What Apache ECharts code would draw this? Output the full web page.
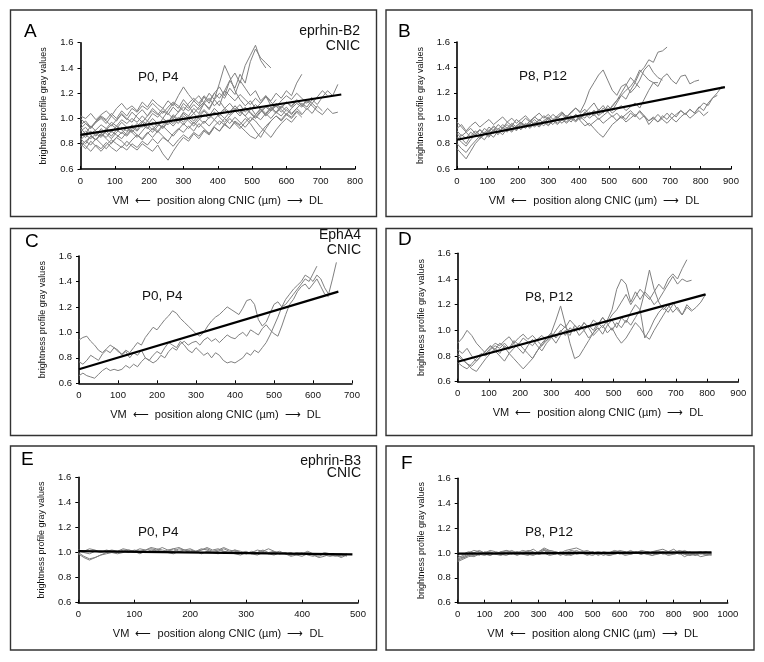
<!DOCTYPE html>
<html><head><meta charset="utf-8">
<script src="https://cdn.jsdelivr.net/npm/echarts@6/dist/echarts.min.js"></script>
<style>html,body{margin:0;padding:0;background:#fff}#c{width:764px;height:662px}</style>
</head><body><div id="c"></div>
<script>
// ---------- DATA ----------
const yTicks = [0.6, 0.8, 1.0, 1.2, 1.4, 1.6];
const xMaxA = 800, xMaxB = 900, xMaxC = 700, xMaxD = 900, xMaxE = 500, xMaxF = 1000;
const stepA = 15, stepB = 15, stepC = 10, stepD = 15, stepE = 10, stepF = 20;

const linesA = [
 [0.90,0.93,0.88,0.91,0.95,0.92,0.97,0.94,0.99,0.96,1.00,0.97,1.02,0.98,1.04,1.01,1.06,1.03,1.09,1.05,1.12,1.08,1.14,1.10,1.17,1.12,1.20,1.25,1.18,1.30,1.36,1.28,1.42,1.50,1.58,1.46,1.40],
 [0.84,0.80,0.86,0.83,0.88,0.85,0.90,0.87,0.84,0.89,0.93,0.90,0.95,0.92,0.97,0.94,1.00,0.97,1.03,0.99,1.05,1.02,1.08,1.04,1.12,1.07,1.15,1.10,1.22,1.30,1.24,1.35,1.28,1.45,1.55,1.48,1.44,1.40],
 [0.95,0.98,0.93,0.97,1.00,0.96,1.02,0.98,1.04,1.00,0.97,1.03,1.07,1.02,1.08,1.04,1.00,1.06,1.12,1.08,1.15,1.10,1.04,1.09,1.13,1.20,1.15,1.28,1.42,1.33,1.22,1.15,1.10,1.14,1.08,1.12,1.18,1.14,1.20,1.16,1.22,1.18,1.28,1.35],
 [0.80,0.76,0.82,0.78,0.74,0.79,0.83,0.80,0.77,0.82,0.78,0.75,0.80,0.77,0.74,0.79,0.72,0.67,0.74,0.80,0.85,0.82,0.88,0.84,0.90,0.87,0.93,0.90,0.96,0.92,0.98,0.95,1.00,0.96,0.90,0.85,0.92,0.98,1.02,0.99,1.04,1.01,1.06,1.03,1.08,1.04,1.10,1.06],
 [1.02,1.00,1.04,0.99,1.03,1.06,1.02,1.08,1.12,1.07,1.10,1.06,1.13,1.09,1.15,1.11,1.08,1.14,1.10,1.18,1.25,1.19,1.14,1.18,1.12,1.16,1.10,1.14,1.08,1.12,1.07,1.11,1.05,1.09,1.03,1.07,1.02,1.06,1.10,1.05,1.09,1.04,1.08,1.12,1.09,1.15,1.11,1.17,1.22,1.18,1.27],
 [0.88,0.85,0.90,0.86,0.92,0.88,0.84,0.89,0.93,0.90,0.95,0.91,0.97,0.93,0.89,0.94,0.98,0.95,1.00,0.96,1.02,0.98,0.94,0.99,1.03,1.00,1.05,1.01,0.97,1.02,1.06,1.02,1.08,1.04,1.00,1.05,1.09,1.06,1.11,1.07,1.03,1.08,1.12,1.09,1.14,1.10,1.06,1.03,1.08,1.04,1.05],
 [0.78,0.82,0.79,0.84,0.80,0.76,0.81,0.85,0.82,0.78,0.83,0.87,0.84,0.89,0.85,0.90,0.86,0.82,0.88,0.92,0.89,0.94,0.90,0.96,0.92,0.88,0.94,0.98,0.95,1.00,0.96,0.92,0.97,1.01,0.98,0.93,0.89,0.85,0.91,0.96,1.00,0.97,1.02],
 [0.92,0.96,0.93,0.98,1.02,0.99,1.04,1.00,1.06,1.02,1.08,1.05,1.10,1.07,1.12,1.08,1.04,1.09,1.13,1.10,1.06,1.12,1.16,1.12,1.18,1.14,1.20,1.16,1.22,1.18,1.14,1.19,1.15,1.11,1.16,1.12,1.17,1.13,1.09,1.14,1.18,1.15,1.20,1.16,1.12,1.17],
 [0.86,0.90,0.87,0.83,0.88,0.92,0.89,0.94,0.91,0.87,0.92,0.96,0.93,0.98,0.94,0.90,0.95,0.99,0.96,1.01,0.97,1.02,0.98,1.03,1.07,1.03,0.99,1.04,1.08,1.05,1.10,1.06,1.02,1.07,1.11,1.07,1.03,1.08,1.04,1.09,1.13,1.10,1.15,1.11,1.07,1.12,1.08],
 [0.82,0.78,0.74,0.79,0.76,0.81,0.77,0.74,0.78,0.75,0.80,0.77,0.82,0.79,0.84,0.80,0.85,0.82,0.78,0.83,0.87,0.84,0.89,0.86,0.91,0.88,0.93,0.90,0.95,0.92,0.97,0.94,0.90,0.86,0.84,0.89,0.94,0.98,1.02,0.98,1.03,1.00,1.05,1.01],
 [0.92,0.88,0.94,0.90,0.86,0.91,0.95,0.92,0.97,0.93,0.89,0.94,0.98,0.95,1.00,0.96,0.92,0.97,1.02,0.98,1.04,1.00,0.96,1.01,1.06,1.02,1.08,1.04,1.00,1.05,1.10,1.06,1.02,0.98,1.03,1.08,1.04,1.09,1.05,1.10,1.06],
 [0.83,0.87,0.84,0.88,0.85,0.90,0.86,0.91,0.88,0.93,0.89,0.85,0.90,0.95,0.91,0.96,0.93,0.98,0.94,0.99,0.95,1.00,1.04,1.00,0.96,1.01,1.05,1.02,1.07,1.03,1.08,1.04,1.09,1.05,1.01,1.06,1.10,1.07,1.12,1.08,1.13,1.09,1.14,1.10,1.15,1.12,1.17,1.22,1.18],
 [1.00,0.96,0.92,0.97,1.01,0.98,0.94,0.99,1.03,0.99,1.05,1.01,0.97,1.02,1.06,1.03,1.08,1.04,1.00,1.05,1.09,1.06,1.11,1.07,1.12,1.08,1.15,1.20,1.16,1.24,1.19,1.30,1.24,1.18,1.22,1.14,1.18,1.10,1.15],
 [0.78,0.82,0.86,0.83,0.88,0.84,0.80,0.85,0.89,0.86,0.91,0.87,0.83,0.88,0.92,0.89,0.94,0.90,0.86,0.91,0.96,0.92,0.97,0.93,0.98,0.94,0.99,0.95,1.00,0.96,1.01,0.97,0.93,0.98,1.02,0.99,1.04,1.00,1.05,1.02,1.07,1.03,1.08,1.04]
];
const linesB = [
 [0.88,0.84,0.80,0.86,0.90,0.87,0.92,0.89,0.94,0.91,0.95,0.92,0.96,0.93,0.97,0.94,0.98,0.95,0.99,0.96,1.00,0.97,1.01,0.98,1.02,0.99,1.03,1.00,1.05,1.02,1.06,1.03,1.08,1.05,1.10,1.14,1.20,1.26,1.32,1.28,1.36,1.40,1.46,1.44,1.52,1.53,1.56],
 [0.92,0.95,0.90,0.94,0.97,0.93,0.96,0.99,0.95,0.98,1.01,0.97,1.00,0.96,0.99,1.02,0.98,1.01,1.04,1.00,1.03,0.99,1.02,1.05,1.01,1.04,1.08,1.05,1.12,1.22,1.28,1.34,1.38,1.30,1.22,1.18,1.25,1.27,1.20,1.24,1.30,1.38,1.42,1.36,1.32,1.30],
 [0.76,0.72,0.68,0.74,0.80,0.84,0.88,0.85,0.90,0.87,0.92,0.89,0.94,0.90,0.95,0.92,0.96,0.93,0.97,0.94,0.98,0.95,0.99,0.96,1.00,0.97,1.02,0.99,1.04,1.08,1.12,1.06,1.10,1.05,1.09,1.14,1.18,1.22,1.25,1.30,1.38,1.34,1.30,1.28,1.28],
 [0.83,0.87,0.84,0.89,0.86,0.91,0.88,0.93,0.90,0.95,0.92,0.97,0.94,0.99,0.96,1.00,0.97,1.01,0.98,1.02,0.99,1.03,1.00,1.04,1.01,1.05,1.08,1.04,1.07,1.03,1.06,1.02,1.05,1.08,1.04,1.07,1.10,1.06,1.09,1.12,1.08,1.15,1.22,1.28,1.25,1.32,1.35,1.30,1.27,1.33,1.34,1.27,1.29,1.30],
 [0.97,0.93,0.89,0.92,0.88,0.91,0.87,0.90,0.93,0.89,0.92,0.95,0.91,0.94,0.97,0.93,0.96,0.99,0.95,0.98,1.01,0.97,1.00,1.03,0.99,1.02,0.98,1.01,1.04,1.00,1.03,0.99,1.02,1.05,1.01,1.04,1.00,1.03,1.06,1.02,1.05,1.01,0.98,1.00,0.97,1.02,0.99,1.04,1.01,1.06,1.03,1.07,1.04,1.08,1.12,1.10,1.16,1.20,1.25],
 [0.85,0.81,0.78,0.83,0.87,0.84,0.89,0.86,0.91,0.88,0.93,0.90,0.95,0.91,0.96,0.93,0.98,0.94,0.99,0.96,1.00,0.97,1.01,0.98,1.02,0.99,1.03,0.98,0.94,0.96,0.92,0.88,0.85,0.90,0.95,0.98,1.02,0.99,1.04,1.01,1.06,1.02,0.98,1.01,0.97,1.00,1.04,1.00,1.03,1.06,1.03,1.07,1.04,1.09,1.06,1.12,1.16,1.18],
 [0.80,0.76,0.73,0.78,0.82,0.86,0.83,0.88,0.85,0.90,0.87,0.92,0.89,0.94,0.91,0.96,0.93,0.97,0.94,0.98,0.95,0.99,0.96,1.00,0.97,1.01,0.98,1.03,1.00,1.05,1.02,1.07,1.04,1.10,1.06,1.12,1.18,1.15,1.22,1.28,1.24],
 [0.90,0.86,0.89,0.85,0.88,0.84,0.87,0.91,0.88,0.92,0.89,0.93,0.90,0.94,0.91,0.95,0.92,0.96,0.93,0.97,0.94,0.98,0.95,0.99,0.96,1.00,0.97,1.01,0.98,0.94,0.97,1.00,0.96,0.99,1.02,0.98,1.01,0.97,1.00,1.03,0.99,1.02,0.95,0.99,1.03,0.99,0.96,1.00,0.97,1.01,1.04,1.00,1.03,1.06,1.02,1.05]
];
const linesC = [
 [0.94,0.96,0.97,0.93,0.90,0.86,0.84,0.87,0.90,0.88,0.85,0.83,0.86,0.84,0.88,0.92,0.90,0.96,1.00,1.04,1.02,1.06,1.10,1.13,1.17,1.15,1.11,1.08,1.05,1.02,0.99,0.97,1.00,1.05,1.09,1.12,1.14,1.17,1.20,1.18,1.16,1.14,1.19,1.25,1.26,1.22,1.10,1.05,1.08,1.15,1.22,1.24,1.20,1.22,1.26,1.30,1.34,1.38,1.42,1.40,1.46,1.52],
 [0.77,0.75,0.78,0.82,0.80,0.78,0.83,0.86,0.84,0.88,0.86,0.82,0.85,0.80,0.84,0.82,0.86,0.80,0.78,0.82,0.85,0.83,0.88,0.92,0.90,0.88,0.93,0.90,0.86,0.84,0.88,0.85,0.82,0.84,0.80,0.84,0.82,0.78,0.76,0.77,0.76,0.78,0.80,0.84,0.82,0.86,0.84,0.88,0.92,0.98,1.05,1.12,1.20,1.26,1.30,1.34,1.37,1.40,1.45,1.43,1.40,1.45,1.42,1.35,1.30,1.42,1.55],
 [0.66,0.68,0.66,0.65,0.64,0.67,0.70,0.72,0.70,0.71,0.70,0.71,0.74,0.72,0.75,0.73,0.77,0.80,0.78,0.76,0.78,0.82,0.80,0.85,0.88,0.86,0.91,0.93,0.90,0.92,0.93,0.90,0.94,0.96,0.93,0.95,0.92,0.95,0.98,0.96,0.95,0.98,1.00,0.97,1.02,1.00,0.98,1.03,1.06,1.02,0.99,0.97,1.05,1.14,1.22,1.26,1.32,1.36,1.38,1.34,1.38,1.42,1.36,1.30,1.28]
];
const linesD = [
 [0.82,0.78,0.74,0.72,0.76,0.80,0.84,0.88,0.85,0.90,0.87,0.82,0.78,0.74,0.70,0.74,0.78,0.84,0.88,0.92,0.95,0.90,0.96,1.00,0.96,1.04,1.00,1.06,1.02,1.08,1.05,1.10,1.06,1.12,1.16,1.22,1.28,1.20,1.26,1.32,1.28,1.24,1.30,1.36,1.32,1.40,1.44,1.40,1.48,1.55],
 [0.90,0.94,1.00,0.96,0.90,0.86,0.82,0.86,0.90,0.88,0.92,0.95,0.90,0.94,0.97,0.93,0.96,0.92,0.88,0.94,0.98,0.94,0.99,1.03,0.98,1.02,0.96,1.00,1.04,1.00,1.06,1.02,1.08,1.16,1.32,1.40,1.36,1.22,1.30,1.24,1.30,1.26,1.20,1.24,1.30,1.36,1.42,1.36,1.40,1.38,1.39],
 [0.75,0.72,0.70,0.74,0.78,0.82,0.80,0.85,0.88,0.86,0.90,0.86,0.92,0.89,0.94,0.91,0.88,0.93,0.96,0.92,0.97,0.95,1.00,0.96,1.02,0.99,1.04,1.00,0.94,0.98,1.02,0.97,1.04,1.08,1.02,1.10,1.06,1.14,1.20,1.16,1.30,1.47,1.32,1.22,1.16,1.20,1.14,1.18,1.12,1.18,1.15,1.18,1.22,1.28],
 [0.80,0.77,0.74,0.70,0.68,0.73,0.78,0.82,0.86,0.82,0.88,0.85,0.90,0.86,0.82,0.88,0.93,0.88,0.84,0.90,0.94,1.00,1.05,1.02,1.08,1.04,1.00,1.06,1.02,0.96,1.00,1.04,0.98,1.02,0.95,0.90,0.94,1.00,1.06,1.02,0.96,0.93,1.00,1.06,1.12,1.18,1.22,1.16,1.12,1.20,1.16],
 [0.85,0.82,0.86,0.80,0.76,0.80,0.84,0.88,0.84,0.80,0.76,0.82,0.86,0.90,0.86,0.82,0.78,0.84,0.90,0.94,0.98,1.08,1.19,1.05,0.90,0.78,0.80,0.86,0.92,0.98,1.04,1.10,1.05,1.00,1.06,1.02,1.08,1.04,1.10,1.16,0.94,1.00,1.08,1.14,1.18,1.14,1.20]
];
const linesE = [
 [1.00,0.97,0.95,0.96,0.98,1.00,1.01,1.00,1.02,1.01,1.00,1.01,1.02,1.03,1.02,1.04,1.02,1.01,1.03,1.02,1.01,1.00,1.02,1.03,1.01,1.02,1.04,1.02,1.01,1.00,0.99,1.00,1.02,1.01,1.03,1.01,0.99,1.00,0.98,0.99,1.00,0.98,0.97,0.99,0.98,0.97,0.98,0.96,0.98],
 [1.02,1.01,1.03,1.02,1.00,1.01,1.02,1.01,1.03,1.02,1.01,1.03,1.02,1.04,1.03,1.02,1.01,1.03,1.04,1.02,1.03,1.01,1.02,1.04,1.02,1.03,1.01,1.00,1.02,1.01,0.99,1.01,1.00,1.02,1.00,1.01,0.99,1.00,0.98,1.00,0.99,1.01,0.99,0.98,1.00,0.99,0.98,0.99,0.97],
 [0.99,0.96,0.94,0.96,0.98,0.99,1.00,0.99,1.00,1.02,1.01,0.99,1.01,1.00,1.02,1.01,1.00,0.99,1.01,1.02,1.00,1.01,0.99,1.01,1.00,0.99,1.01,1.00,0.99,0.98,1.00,0.99,0.98,1.00,0.99,0.98,1.00,0.99,0.97,0.98,0.97,0.99,0.98,0.96,0.97,0.99,0.98,0.97,0.99],
 [1.01,1.00,0.99,1.01,1.00,1.02,1.01,1.00,1.01,1.00,1.02,1.01,1.00,1.02,1.01,1.00,1.02,1.03,1.01,1.00,1.02,1.01,1.03,1.02,1.00,1.01,1.03,1.01,1.02,1.00,1.01,0.99,1.00,1.01,0.99,1.00,1.01,0.99,1.00,0.98,0.99,1.00,0.98,0.97,0.99,0.98,0.97,0.98,0.98]
];
const linesF = [
 [0.93,0.95,0.97,0.98,0.99,1.00,0.98,1.00,0.99,1.01,1.00,0.99,1.01,1.00,0.99,1.01,1.03,1.01,1.00,0.99,1.01,1.00,1.02,1.00,0.99,1.01,0.98,1.00,0.99,1.01,1.00,0.99,1.00,1.01,0.99,1.00,0.98,1.00,1.01,0.99,1.00,1.01,0.99,0.98,1.00,0.99,1.00,1.00],
 [0.96,0.98,1.00,1.02,1.01,1.00,1.02,1.01,1.00,1.02,1.01,1.00,1.02,1.01,1.00,1.01,1.04,1.02,1.01,1.00,1.02,1.03,1.04,1.02,1.00,1.01,0.99,1.01,1.00,1.02,1.01,1.00,1.01,1.00,1.02,1.01,1.00,1.02,1.03,1.01,1.00,1.02,1.01,0.99,1.00,1.01,0.99,1.00],
 [0.98,0.96,0.98,0.99,1.00,0.99,0.98,1.00,0.99,0.98,1.00,1.01,0.99,0.98,1.00,0.99,1.00,0.98,0.99,1.00,0.98,0.99,1.00,1.01,0.99,0.98,1.00,0.99,0.98,0.99,1.00,0.98,0.99,1.00,0.99,1.01,1.00,0.99,1.00,0.98,0.99,1.00,0.97,0.99,0.98,1.00,0.99,0.98],
 [0.95,0.97,0.99,1.00,1.02,1.00,1.01,0.99,1.01,1.00,1.02,1.00,0.99,1.01,1.03,1.00,1.02,1.01,0.99,1.01,1.00,1.02,1.01,1.00,0.98,1.00,1.01,1.00,0.99,1.00,1.02,1.01,0.99,1.01,1.00,0.99,1.01,1.02,1.00,1.01,1.03,1.00,0.99,1.01,0.98,1.00,1.01,0.99],
 [1.00,0.99,1.01,1.00,0.98,1.01,1.00,0.99,1.01,1.02,1.00,0.98,1.00,1.02,1.01,0.99,1.00,1.02,1.01,0.98,1.00,1.01,0.99,1.00,1.01,0.99,1.00,0.98,1.00,1.01,0.99,1.00,1.02,1.00,0.99,1.01,1.00,1.01,0.99,1.00,1.01,0.99,1.00,0.98,0.99,1.00,0.98,0.99],
 [0.94,0.96,0.98,0.97,0.99,0.98,1.00,0.99,0.98,1.00,0.99,1.01,1.00,0.99,0.98,1.00,1.02,0.99,1.01,1.00,0.99,0.98,1.00,1.01,1.02,1.00,0.99,1.00,0.98,0.99,1.00,1.01,0.99,1.00,1.01,0.99,0.98,0.99,1.01,1.00,0.99,1.00,1.02,1.00,0.99,0.97,0.98,0.99]
];
// regression lines: [x start, x end], [y start, y end]
const fitXA = [0, 760], fitYA = [0.87, 1.19];
const fitXB = [0, 880], fitYB = [0.83, 1.245];
const fitXC = [0, 665], fitYC = [0.71, 1.32];
const fitXD = [0, 795], fitYD = [0.755, 1.28];
const fitXE = [0, 490], fitYE = [1.012, 0.985];
const fitXF = [0, 940], fitYF = [0.995, 1.005];

const panelLetters = ['A','B','C','D','E','F'];
const ageLabels = ['P0, P4','P8, P12','P0, P4','P8, P12','P0, P4','P8, P12'];
const geneLabels = [['eprhin-B2','CNIC'], null, ['EphA4','CNIC'], null, ['ephrin-B3','CNIC'], null];
const yName = 'brightness profile gray values';
const xName = 'VM  \u27f5  position along CNIC (\u00b5m)  \u27f6  DL';

// ---------- LAYOUT ----------
const FONT = "'Liberation Sans', Arial, sans-serif";
const panels = [
 {lines: linesA, step: stepA, xMax: xMaxA, fx: fitXA, fy: fitYA, grid: {left: 80.5, top: 42.7, width: 274.5, height: 126.3},
  frame: [10.5, 10, 366, 206.5], letter: [24, 31.5], age: [138, 77], gene: [360, 31, 46]},
 {lines: linesB, step: stepB, xMax: xMaxB, fx: fitXB, fy: fitYB, grid: {left: 457, top: 42, width: 274, height: 127},
  frame: [386, 10, 366, 206.5], letter: [398, 31.5], age: [519, 76]},
 {lines: linesC, step: stepC, xMax: xMaxC, fx: fitXC, fy: fitYC, grid: {left: 79, top: 256, width: 273, height: 127.3},
  frame: [10.5, 228.5, 366, 207], letter: [25, 241.5], age: [142, 296], gene: [361, 235, 250]},
 {lines: linesD, step: stepD, xMax: xMaxD, fx: fitXD, fy: fitYD, grid: {left: 457.7, top: 253.3, width: 280.6, height: 128.4},
  frame: [386, 228.5, 366, 207], letter: [398, 239.5], age: [525, 297]},
 {lines: linesE, step: stepE, xMax: xMaxE, fx: fitXE, fy: fitYE, grid: {left: 78.3, top: 477.3, width: 279.7, height: 125.4},
  frame: [10.5, 446, 366, 204], letter: [21, 459.5], age: [138, 532], gene: [361, 461, 473]},
 {lines: linesF, step: stepF, xMax: xMaxF, fx: fitXF, fy: fitYF, grid: {left: 457.7, top: 478.3, width: 270, height: 124.4},
  frame: [386, 446, 368, 204], letter: [401, 463.5], age: [525, 532]}
];

const grids = [], xAxes = [], yAxes = [], series = [], graphics = [];
panels.forEach((p, i) => {
  grids.push(Object.assign({containLabel: false}, p.grid));
  xAxes.push({
    type: 'value', gridIndex: i, min: 0, max: p.xMax, interval: 100,
    name: xName, nameLocation: 'middle', nameGap: 26,
    nameTextStyle: {fontFamily: FONT, fontSize: 11, color: '#111'},
    axisLine: {show: true, onZero: false, lineStyle: {color: '#000', width: 1.6}},
    axisTick: {show: true, inside: true, length: 3, lineStyle: {color: '#000', width: 1}},
    axisLabel: {fontFamily: FONT, fontSize: 9.5, color: '#111', margin: 7, formatter: v => String(v)},
    splitLine: {show: false}
  });
  yAxes.push({
    type: 'value', gridIndex: i, min: yTicks[0], max: yTicks[yTicks.length - 1], interval: 0.2,
    name: yName, nameLocation: 'middle', nameGap: 32, nameRotate: 90,
    nameTextStyle: {fontFamily: FONT, fontSize: 9, color: '#111'},
    axisLine: {show: true, onZero: false, lineStyle: {color: '#000', width: 1.6}},
    axisTick: {show: true, inside: false, length: 3, lineStyle: {color: '#000', width: 1}},
    axisLabel: {fontFamily: FONT, fontSize: 9.5, color: '#111', margin: 7, formatter: v => v.toFixed(1)},
    splitLine: {show: false}
  });
  p.lines.forEach(vals => {
    series.push({
      type: 'line', xAxisIndex: i, yAxisIndex: i, symbol: 'none', silent: true,
      lineStyle: {color: '#808080', width: 1},
      data: vals.map((v, k) => [k * p.step, v])
    });
  });
  series.push({
    type: 'line', xAxisIndex: i, yAxisIndex: i, symbol: 'none', silent: true, z: 5,
    lineStyle: {color: '#000', width: 2.2},
    data: p.fx.map((x, k) => [x, p.fy[k]])
  });
  graphics.push({type: 'rect', shape: {x: p.frame[0], y: p.frame[1], width: p.frame[2], height: p.frame[3]},
    style: {fill: 'none', stroke: '#333', lineWidth: 1.4}});
  graphics.push({type: 'text', x: p.letter[0], y: p.letter[1],
    style: {text: panelLetters[i], font: '19px ' + FONT, fill: '#000', align: 'left', verticalAlign: 'middle'}});
  graphics.push({type: 'text', x: p.age[0], y: p.age[1],
    style: {text: ageLabels[i], font: '13.5px ' + FONT, fill: '#111', align: 'left', verticalAlign: 'middle'}});
  if (geneLabels[i]) {
    graphics.push({type: 'text', x: p.gene[0], y: p.gene[1],
      style: {text: geneLabels[i][0], font: '14px ' + FONT, fill: '#111', align: 'right', verticalAlign: 'middle'}});
    graphics.push({type: 'text', x: p.gene[0], y: p.gene[2],
      style: {text: geneLabels[i][1], font: '14px ' + FONT, fill: '#111', align: 'right', verticalAlign: 'middle'}});
  }
});

const chart = echarts.init(document.getElementById('c'), null, {renderer: 'canvas'});
chart.setOption({
  backgroundColor: '#fff',
  animation: false,
  grid: grids, xAxis: xAxes, yAxis: yAxes, series: series,
  graphic: graphics
});
</script></body></html>
